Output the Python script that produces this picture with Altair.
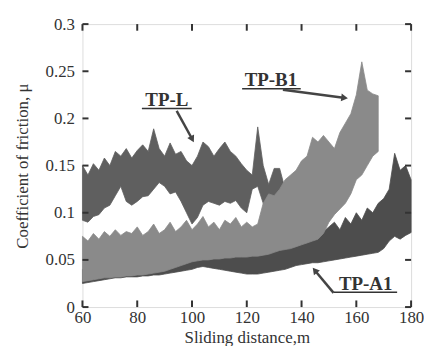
import altair as alt
import pandas as pd

# ---------------- data ----------------
# TP-L band (x = 60..134 step 2)
tpl_x = list(range(60, 136, 2))
tpl_hi = [0.150, 0.140, 0.152, 0.145, 0.158, 0.150, 0.165, 0.160, 0.168, 0.158,
          0.166, 0.172, 0.165, 0.189, 0.168, 0.160, 0.174, 0.162, 0.165, 0.155,
          0.150, 0.160, 0.175, 0.170, 0.160, 0.168, 0.175, 0.165, 0.160, 0.152,
          0.145, 0.140, 0.191, 0.150, 0.130, 0.147, 0.147, 0.125]
tpl_lo = [0.092, 0.090, 0.096, 0.098, 0.105, 0.108, 0.118, 0.128, 0.112, 0.108,
          0.112, 0.117, 0.118, 0.125, 0.132, 0.128, 0.120, 0.122, 0.112, 0.100,
          0.088, 0.095, 0.108, 0.112, 0.110, 0.108, 0.112, 0.110, 0.113, 0.105,
          0.100, 0.125, 0.128, 0.110, 0.095, 0.095, 0.098, 0.100]

# TP-B1 band (x = 60..168 step 2)
tpb_x = list(range(60, 170, 2))
tpb_hi = [0.075, 0.070, 0.078, 0.072, 0.080, 0.075, 0.082, 0.076, 0.080, 0.078,
          0.085, 0.076, 0.080, 0.088, 0.078, 0.082, 0.090, 0.080, 0.085, 0.092,
          0.082, 0.088, 0.096, 0.085, 0.090, 0.082, 0.092, 0.088, 0.095, 0.085,
          0.090, 0.085, 0.088, 0.110, 0.120, 0.118, 0.125, 0.135, 0.140, 0.145,
          0.155, 0.160, 0.180, 0.175, 0.182, 0.175, 0.168, 0.185, 0.195, 0.205,
          0.225, 0.260, 0.230, 0.226, 0.224]
tpb_lo = [0.027, 0.028, 0.029, 0.030, 0.031, 0.031, 0.032, 0.032, 0.033, 0.033,
          0.034, 0.034, 0.035, 0.036, 0.037, 0.038, 0.040, 0.042, 0.044, 0.046,
          0.048, 0.049, 0.050, 0.050, 0.051, 0.051, 0.052, 0.052, 0.053, 0.053,
          0.053, 0.054, 0.054, 0.055, 0.056, 0.058, 0.060, 0.061, 0.062, 0.064,
          0.066, 0.068, 0.070, 0.072, 0.078, 0.090, 0.098, 0.104, 0.110, 0.120,
          0.135, 0.140, 0.150, 0.160, 0.165]

# TP-A1 band (x = 60..180 step 2)
tpa_x = list(range(60, 182, 2))
tpa_lo = [0.025, 0.026, 0.027, 0.028, 0.029, 0.030, 0.031, 0.031, 0.032, 0.032,
          0.032, 0.033, 0.033, 0.034, 0.034, 0.035, 0.036, 0.037, 0.038, 0.039,
          0.040, 0.042, 0.043, 0.042, 0.041, 0.040, 0.039, 0.038, 0.037, 0.036,
          0.035, 0.035, 0.035, 0.036, 0.037, 0.038, 0.039, 0.040, 0.042, 0.044,
          0.045, 0.046, 0.047, 0.047, 0.048, 0.049, 0.050, 0.051, 0.052, 0.053,
          0.054, 0.055, 0.056, 0.057, 0.058, 0.062, 0.070, 0.075, 0.072, 0.076,
          0.079]
tpa_hi = [0.040, 0.041, 0.042, 0.042, 0.043, 0.043, 0.044, 0.044, 0.045, 0.045,
          0.046, 0.046, 0.047, 0.047, 0.048, 0.048, 0.049, 0.049, 0.050, 0.050,
          0.050, 0.052, 0.053, 0.054, 0.054, 0.054, 0.055, 0.055, 0.055, 0.055,
          0.055, 0.056, 0.057, 0.058, 0.060, 0.062, 0.064, 0.066, 0.068, 0.070,
          0.072, 0.074, 0.076, 0.078, 0.080, 0.085, 0.090, 0.082, 0.095, 0.088,
          0.100, 0.092, 0.105, 0.100, 0.110, 0.115, 0.125, 0.163, 0.145, 0.150,
          0.135]

x_ticks = [60, 80, 100, 120, 140, 160, 180]
y_ticks = [0, 0.05, 0.1, 0.15, 0.2, 0.25, 0.3]

# annotations (data coordinates)
ann_names = ["TP-L", "TP-B1", "TP-A1"]
ann_x = [90.8, 128.8, 163.4]
ann_y = [0.2135, 0.2345, 0.0185]
ul_x1 = [81.7, 118.3, 151.7]
ul_x2 = [99.9, 139.7, 174.9]
ul_y = [0.2105, 0.2315, 0.0158]
arr_x1 = [94.4, 133.2, 151.7]
arr_y1 = [0.208, 0.2305, 0.0150]
arr_x2 = [99.9, 155.3, 145.1]
arr_y2 = [0.179, 0.2220, 0.0380]
arr_angle = [152, 97, 321]

FONT = "Times New Roman, Liberation Serif, DejaVu Serif, serif"
XS = alt.Scale(domain=[60, 180], nice=False, zero=False)
YS = alt.Scale(domain=[0, 0.3], nice=False)

def band(xs, lo, hi, color):
    df = pd.DataFrame({"x": xs, "lo": lo, "hi": hi})
    return alt.Chart(df).mark_area(color=color, opacity=1, line=False,
                                   stroke=color, strokeWidth=0.8).encode(
        x=alt.X("x:Q", scale=XS),
        y=alt.Y("lo:Q", scale=YS),
        y2="hi:Q",
    )

base_axes = alt.Chart(pd.DataFrame({"x": [60], "y": [0]})).mark_point(opacity=0).encode(
    x=alt.X("x:Q", scale=XS, title="Sliding distance,m",
            axis=alt.Axis(values=x_ticks, format="d", tickSize=0, domain=False,
                          grid=False, labelFlush=False, labelOverlap=False,
                          labelFont=FONT, labelFontSize=17,
                          labelColor="#333", labelPadding=3, titleFont=FONT,
                          titleFontSize=17, titleFontWeight="normal",
                          titleColor="#333", titlePadding=4)),
    y=alt.Y("y:Q", scale=YS, title="Coefficient of friction, μ",
            axis=alt.Axis(values=y_ticks, format="~g", tickSize=0, domain=False,
                          grid=False, labelFlush=False, labelOverlap=False,
                          labelFont=FONT, labelFontSize=17,
                          labelColor="#333", labelPadding=8, titleFont=FONT,
                          titleFontSize=17, titleFontWeight="normal",
                          titleColor="#333", titlePadding=14)),
)

lay_a = band(tpa_x, tpa_lo, tpa_hi, "#4d4d4d")
lay_l = band(tpl_x, tpl_lo, tpl_hi, "#5f5f5f")
lay_b = band(tpb_x, tpb_lo, tpb_hi, "#8a8a8a")

# inward ticks
xt = pd.DataFrame({"x": x_ticks})
yt = pd.DataFrame({"y": y_ticks})
tick_style = dict(color="#333", strokeWidth=2)
xb = alt.Chart(xt).mark_rule(**tick_style).encode(
    x=alt.X("x:Q", scale=XS), y=alt.datum(0), y2=alt.datum(0.007))
xtop = alt.Chart(xt).mark_rule(**tick_style).encode(
    x=alt.X("x:Q", scale=XS), y=alt.datum(0.3), y2=alt.datum(0.293))
yl = alt.Chart(yt).mark_rule(**tick_style).encode(
    y=alt.Y("y:Q", scale=YS), x=alt.datum(60), x2=alt.datum(62.2))
yr = alt.Chart(yt).mark_rule(**tick_style).encode(
    y=alt.Y("y:Q", scale=YS), x=alt.datum(180), x2=alt.datum(177.8))

ann = pd.DataFrame({"name": ann_names, "x": ann_x, "y": ann_y,
                    "ux1": ul_x1, "ux2": ul_x2, "uy": ul_y,
                    "ax1": arr_x1, "ay1": arr_y1, "ax2": arr_x2, "ay2": arr_y2,
                    "ang": arr_angle})
labels = alt.Chart(ann).mark_text(font=FONT, fontSize=19, fontWeight="bold",
                                  color="#333", baseline="alphabetic",
                                  align="center").encode(
    x=alt.X("x:Q", scale=XS), y=alt.Y("y:Q", scale=YS), text="name:N")
underline = alt.Chart(ann).mark_rule(color="#333", strokeWidth=1.5).encode(
    x=alt.X("ux1:Q", scale=XS), x2="ux2:Q", y=alt.Y("uy:Q", scale=YS))
shaft = alt.Chart(ann).mark_rule(color="#444", strokeWidth=2.5).encode(
    x=alt.X("ax1:Q", scale=XS), x2="ax2:Q",
    y=alt.Y("ay1:Q", scale=YS), y2="ay2:Q")
head = alt.Chart(ann).mark_point(shape="triangle", filled=True, color="#444",
                                 size=60, opacity=1).encode(
    x=alt.X("ax2:Q", scale=XS), y=alt.Y("ay2:Q", scale=YS),
    angle=alt.Angle("ang:Q", scale=None))

chart = alt.layer(base_axes, lay_a, lay_l, lay_b, xb, xtop, yl, yr,
                  underline, labels, shaft, head).properties(
    width=331, height=285,
    autosize=alt.AutoSizeParams(type="none"),
    padding={"left": 75, "top": 15, "right": 13, "bottom": 38},
).configure_view(stroke="#222", strokeWidth=2.5).configure(background="white")

chart.save("out.html", embed_options={"renderer": "svg", "actions": False})
